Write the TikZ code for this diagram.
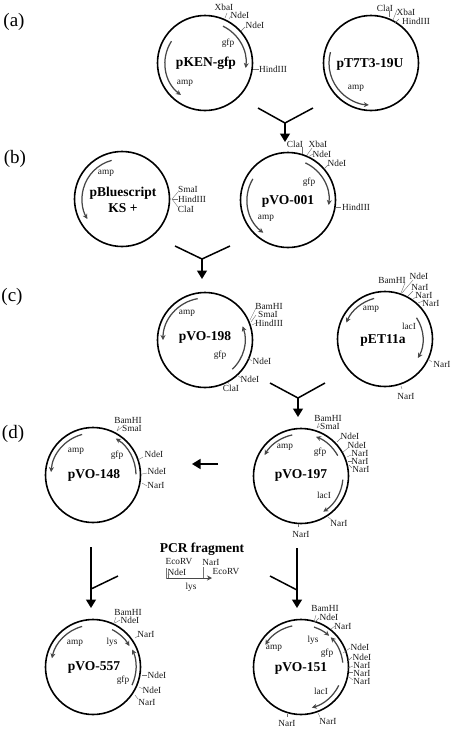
\documentclass[tikz,border=0pt]{standalone}
\usepackage{fontspec}
\setmainfont{Liberation Serif}
\usetikzlibrary{arrows.meta}
\newcounter{sitecnt}
\tikzset{
  ring/.style={circle,draw=black,line width=1.6pt,minimum size=95pt,inner sep=0pt},
  pname/.style={font=\fontsize{13.5}{14}\selectfont\bfseries,inner sep=0pt,align=center},
  lbl/.style={font=\fontsize{9.3}{10}\selectfont,inner sep=0pt,text=black!90},
  tickline/.style={draw=black!55,line width=0.4pt},
  genearc/.style={draw=black!72,line width=1.25pt,-{Stealth[length=5pt,width=5pt]}},
  bigline/.style={line width=1.5pt,draw=black},
  bigarrow/.style={line width=1.5pt,draw=black,-{Triangle[length=8.5pt,width=10pt]}},
  panel/.style={font=\fontsize{19}{20}\selectfont,inner sep=0pt}
}
% ring name, x, y
\newcommand\plasmid[3]{\node[ring] (#1) at (#2,#3) {};}
% ring, radius, start, end
\newcommand\gene[4]{\draw[genearc] (#1.center) ++(#3:#2) arc[start angle=#3,end angle=#4,radius=#2];}
% plain label
\newcommand\lab[3]{\stepcounter{sitecnt}\node[lbl] (s\thesitecnt) at (#1,#2) {#3};}
% label with tick: x,y,text,x1,y1,x2,y2
\newcommand\site[7]{\stepcounter{sitecnt}\node[lbl] (s\thesitecnt) at (#1,#2) {#3};
  \coordinate (ta\thesitecnt) at (#4,#5);\coordinate (tb\thesitecnt) at (#6,#7);
  \draw[tickline] (ta\thesitecnt) -- (tb\thesitecnt);}
\begin{document}
\begin{tikzpicture}[x=1pt,y=-1pt]
\useasboundingbox (0,0) rectangle (451,729);
\node[panel] (pa) at (14,22) {(a)};
\node[panel] (pb) at (15,159) {(b)};
\node[panel] (pc) at (12,297) {(c)};
\node[panel] (pd) at (13,434) {(d)};
% pKEN-gfp
\plasmid{ken}{205}{63}
\node[pname] (kent) at (206,63) {pKEN-gfp};
\gene{ken}{41}{-64}{7}
\gene{ken}{40}{213}{127}
\lab{228}{43}{gfp}\lab{185}{83}{amp}
\site{224}{7}{XbaI}{225}{18}{227}{13}
\site{240}{15}{NdeI}{229}{19}{231}{16}
\site{255}{25}{NdeI}{241}{31}{245}{27}
\site{273}{69}{HindIII}{253}{69}{259}{69}
% pT7T3-19U
\plasmid{tt}{371}{63}
\node[pname] (ttt) at (370,64) {pT7T3-19U};
\gene{tt}{42}{195}{93}
\lab{356}{88}{amp}
\site{385}{8}{ClaI}{389}{11}{389}{17}
\site{406}{12}{XbaI}{397}{10}{393}{20}
\site{416}{21}{HindIII}{399}{19}{395}{23}
% pBluescript
\plasmid{blue}{122}{199}
\node[pname] (bluet) at (123,193) {pBluescript};
\node[pname] (bluet2) at (123,208) {KS +};
\gene{blue}{40}{255}{150}
\lab{106}{173}{amp}
\site{188}{189}{SmaI}{172}{199}{178}{192}
\site{192}{199}{HindIII}{172}{199}{178}{199}
\site{186}{209}{ClaI}{172}{199}{178}{207}
% pVO-001
\plasmid{one}{288}{200}
\node[pname] (onet) at (288,201) {pVO-001};
\gene{one}{41}{-65}{7}
\gene{one}{41}{211}{127}
\lab{309}{182}{gfp}\lab{266}{218}{amp}
\site{295}{144}{ClaI}{302}{147}{302}{154}
\site{318}{144}{XbaI}{312}{148}{307}{155}
\site{322}{154}{NdeI}{313}{154}{308}{157}
\site{337}{163}{NdeI}{328}{165}{324}{169}
\site{356}{207}{HindIII}{336}{207}{341}{207}
% pVO-198
\plasmid{oneb}{205}{340}
\node[pname] (onebt) at (205,337) {pVO-198};
\gene{oneb}{42}{260}{180}
\gene{oneb}{40}{47}{-20}
\lab{220}{355}{gfp}\lab{187}{313}{amp}
\site{269}{306}{BamHI}{250}{320}{256}{308}
\site{268}{314}{SmaI}{251}{322}{256}{315}
\site{269}{323}{HindIII}{252}{325}{256}{323}
\site{262}{361}{NdeI}{248}{358}{252}{361}
\site{250}{379}{NdeI}{237}{375}{241}{378}
\site{231}{388}{ClaI}{229}{382}{228}{384}
% pET11a
\plasmid{et}{385}{339}
\node[pname] (ett) at (383,340) {pET11a};
\gene{et}{42}{255}{203}
\gene{et}{38}{-34}{30}
\lab{371}{309}{amp}\lab{409}{326}{lacI}
\site{392}{280}{BamHI}{401}{293}{405}{283}
\site{419}{276}{NdeI}{402}{293}{413}{280}
\site{420}{287}{NarI}{408}{296}{413}{291}
\site{424}{295}{NarI}{413}{299}{416}{297}
\site{431}{303}{NarI}{418}{303}{423}{301}
\site{442}{364}{NarI}{428}{359}{432}{362}
\site{406}{396}{NarI}{401}{386}{402}{389}
% pVO-148
\plasmid{oned}{93}{475}
\node[pname] (onedt) at (94,475) {pVO-148};
\gene{oned}{42}{255}{184}
\gene{oned}{43}{-1}{-58}
\lab{117}{455}{gfp}\lab{76}{451}{amp}
\site{128}{420}{BamHI}{117}{431}{119}{426}
\site{132}{428}{SmaI}{117}{431}{122}{427}
\site{154}{454}{NdeI}{138}{460}{143}{457}
\site{157}{471}{NdeI}{142}{474}{147}{473}
\site{156}{485}{NarI}{142}{483}{147}{486}
% pVO-197
\plasmid{onec}{301}{476}
\node[pname] (onect) at (301,475) {pVO-197};
\gene{onec}{42}{258}{210}
\gene{onec}{42}{-29}{-69}
\gene{onec}{42}{5}{58}
\lab{285}{447}{amp}\lab{320}{452}{gfp}\lab{324}{495}{lacI}
\site{328}{418}{BamHI}{317}{428}{319}{423}
\site{330}{426}{SmaI}{317}{428}{320}{426}
\site{350}{436}{NdeI}{337}{442}{341}{438}
\site{357}{445}{NdeI}{343}{452}{348}{448}
\site{360}{453}{NarI}{347}{457}{351}{455}
\site{360}{461}{NarI}{348}{461}{352}{461}
\site{361}{469}{NarI}{349}{465}{352}{468}
\site{339}{523}{NarI}{328}{517}{332}{520}
\site{301}{534}{NarI}{298}{524}{298}{527}
% pVO-557
\plasmid{five}{93}{667}
\node[pname] (fivet) at (94,667) {pVO-557};
\gene{five}{42}{255}{192}
\gene{five}{42}{-63}{-30}
\gene{five}{43}{25}{-24}
\lab{75}{643}{amp}\lab{112}{642}{lys}\lab{123}{680}{gfp}
\site{128}{612}{BamHI}{114}{623}{116}{617}
\site{130}{620}{NdeI}{115}{623}{120}{620}
\site{146}{634}{NarI}{135}{638}{138}{636}
\site{157}{675}{NdeI}{142}{675}{147}{675}
\site{152}{690}{NdeI}{139}{687}{143}{689}
\site{147}{702}{NarI}{135}{695}{138}{699}
% pVO-151
\plasmid{onee}{301}{667}
\node[pname] (oneet) at (301,668) {pVO-151};
\gene{onee}{42}{258}{212}
\gene{onee}{42}{-72}{-48}
\gene{onee}{42}{-6}{-45}
\gene{onee}{42}{26}{75}
\lab{274}{648}{amp}\lab{313}{640}{lys}\lab{327}{653}{gfp}\lab{321}{691}{lacI}
\site{325}{608}{BamHI}{314}{622}{316}{615}
\site{329}{617}{NdeI}{315}{622}{319}{618}
\site{343}{626}{NarI}{331}{629}{335}{626}
\site{360}{647}{NdeI}{343}{653}{350}{648}
\site{362}{657}{NdeI}{347}{662}{352}{657}
\site{362}{665}{NarI}{348}{668}{353}{666}
\site{362}{673}{NarI}{349}{672}{353}{672}
\site{362}{681}{NarI}{349}{677}{353}{680}
\site{328}{721}{NarI}{318}{713}{320}{717}
\site{287}{723}{NarI}{287}{714}{287}{717}
% PCR fragment
\node[pname] (pcr) at (202,549) {PCR fragment};
\coordinate (fs) at (166,578);
\coordinate (fe) at (212,578);
\draw[genearc,line width=0.9pt] (fs) -- (fe);
\lab{191}{587}{lys}
\site{179}{562}{EcoRV}{166}{568}{166}{579}
\site{177}{572}{NdeI}{168}{572}{168}{578}
\site{211}{562}{NarI}{203}{567}{203}{578}
\lab{226}{572}{EcoRV}
% Y junctions and arrows
\coordinate (ya) at (285,123);\coordinate (yal) at (258,108);\coordinate (yar) at (313,108);\coordinate (yat) at (285,142);
\draw[bigline] (yal) -- (ya) -- (yar);\draw[bigarrow] (ya) -- (yat);
\coordinate (yb) at (202,259);\coordinate (ybl) at (175,246);\coordinate (ybr) at (230,246);\coordinate (ybt) at (202,279);
\draw[bigline] (ybl) -- (yb) -- (ybr);\draw[bigarrow] (yb) -- (ybt);
\coordinate (yc) at (298,398);\coordinate (ycl) at (270,383);\coordinate (ycr) at (325,383);\coordinate (yct) at (298,417);
\draw[bigline] (ycl) -- (yc) -- (ycr);\draw[bigarrow] (yc) -- (yct);
\coordinate (la) at (218,464);\coordinate (lb) at (192,464);
\draw[bigarrow] (la) -- (lb);
\coordinate (da) at (91,547);\coordinate (db) at (91,608);\coordinate (dc) at (91,589);\coordinate (dd) at (118,576);
\draw[bigarrow] (da) -- (db);\draw[bigline] (dd) -- (dc);
\coordinate (ea) at (297,548);\coordinate (eb) at (297,608);\coordinate (ec) at (297,590);\coordinate (ed) at (270,576);
\draw[bigarrow] (ea) -- (eb);\draw[bigline] (ed) -- (ec);
\end{tikzpicture}
\end{document}
